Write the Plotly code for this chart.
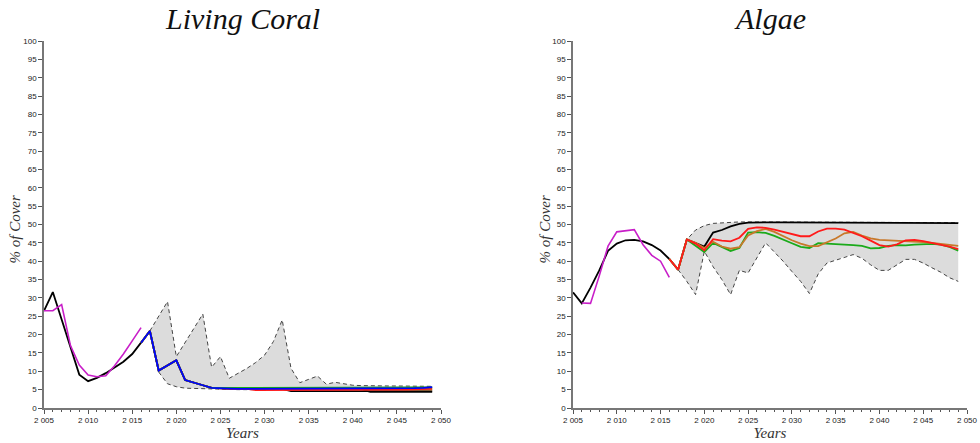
import plotly.graph_objects as go

# ---------------- data ----------------
hist_years = list(range(2005, 2017))
coral_hist_black = [26.5, 31.6, 24.1, 16.5, 9.1, 7.3, 8.2, 9.5, 11.0, 12.6, 14.7, 17.8]
coral_hist_magenta = [26.5, 26.5, 28.2, 17.0, 11.7, 9.0, 8.5, 8.8, 11.5, 14.7, 18.3, 21.9]

algae_hist_black = [31.5, 28.5, 32.8, 37.5, 42.8, 44.8, 45.7, 45.8, 45.4, 44.4, 42.9, 40.6]
magenta_years_algae = list(range(2006, 2017))
algae_hist_magenta = [28.6, 28.5, 36.0, 44.1, 48.0, 48.4, 48.6, 44.5, 41.6, 40.0, 35.6]

scen_years = list(range(2016, 2050))  # 34 values
coral_blue = [17.8, 21.0, 10.2, 11.6, 13.0, 7.6, 7.0, 6.2, 5.5, 5.3, 5.3, 5.2, 5.2, 5.2, 5.2, 5.2, 5.2,
              5.2, 5.2, 5.2, 5.2, 5.2, 5.2, 5.2, 5.2, 5.2, 5.2, 5.2, 5.2, 5.3, 5.3, 5.4, 5.5, 5.7]
coral_green = [17.8, 21.0, 10.2, 11.6, 13.0, 7.6, 7.0, 6.2, 5.5, 5.4, 5.5, 5.5, 5.5, 5.5, 5.5, 5.5, 5.5,
               5.5, 5.5, 5.5, 5.5, 5.5, 5.5, 5.5, 5.5, 5.6, 5.6, 5.6, 5.6, 5.6, 5.6, 5.6, 5.6, 5.6]
coral_red = [17.8, 21.0, 10.2, 11.6, 13.0, 7.6, 7.0, 6.2, 5.5, 5.3, 5.3, 5.2, 5.2, 4.9, 4.9, 4.9, 4.9,
             4.9, 4.9, 4.9, 4.9, 4.9, 4.9, 4.9, 4.8, 4.8, 4.8, 4.8, 4.8, 4.9, 5.0, 5.1, 5.2, 5.3]
coral_orange = [17.8, 21.0, 10.2, 11.6, 13.0, 7.6, 7.0, 6.2, 5.5, 5.3, 5.3, 5.2, 5.2, 5.2, 5.2, 5.2, 5.2,
                5.2, 5.2, 5.2, 5.2, 5.2, 5.2, 5.2, 5.2, 5.2, 5.2, 5.2, 5.2, 5.0, 5.0, 5.0, 5.0, 5.0]
coral_black = [17.8, 21.0, 10.2, 11.6, 13.0, 7.6, 7.0, 6.2, 5.5, 5.3, 5.3, 5.2, 5.2, 5.2, 5.2, 5.2, 5.2,
               4.6, 4.6, 4.6, 4.6, 4.6, 4.6, 4.6, 4.6, 4.6, 4.6, 4.6, 4.6, 4.6, 4.6, 4.6, 4.6, 4.6]
coral_gray = [17.8, 21.0, 10.2, 11.6, 13.0, 7.6, 7.0, 6.2, 5.5, 5.3, 5.3, 5.2, 5.2, 5.2, 5.2, 5.2, 5.2,
              5.2, 5.2, 5.2, 5.2, 5.2, 5.2, 5.2, 5.2, 5.2, 4.3, 4.3, 4.3, 4.3, 4.3, 4.3, 4.3, 4.3]

algae_black = [40.6, 37.7, 45.9, 45.0, 44.0, 47.8, 48.5, 49.5, 50.2, 50.5, 50.6, 50.6, 50.6, 50.6, 50.6,
               50.6, 50.6, 50.6, 50.6, 50.6, 50.6, 50.6, 50.6, 50.6, 50.6, 50.6, 50.6, 50.5, 50.5, 50.5,
               50.5, 50.5, 50.5, 50.4]
algae_orange = [40.6, 37.7, 45.9, 45.0, 43.6, 45.3, 44.0, 43.4, 43.8, 47.0, 48.2, 48.8, 48.0, 46.8, 45.7,
                44.8, 44.1, 44.1, 45.2, 46.2, 47.6, 48.0, 47.0, 46.2, 45.8, 45.7, 45.7, 45.6, 45.5, 45.2,
                45.0, 44.7, 44.4, 44.2]
algae_green = [40.6, 37.7, 45.9, 44.2, 42.5, 45.0, 43.9, 42.8, 43.6, 47.8, 47.9, 47.7, 46.9, 45.8, 44.9,
               43.9, 43.6, 44.9, 44.8, 44.7, 44.5, 44.4, 44.2, 43.5, 43.6, 44.2, 44.4, 44.3, 44.5, 44.7,
               44.7, 44.5, 43.9, 42.9]
algae_red = [40.6, 37.7, 45.9, 44.8, 43.0, 46.0, 45.6, 45.4, 46.4, 48.8, 49.2, 49.1, 48.6, 48.0, 47.5,
             46.8, 46.8, 48.1, 48.9, 48.9, 48.6, 47.8, 46.8, 45.6, 44.4, 44.0, 44.6, 45.7, 45.8, 45.5,
             45.0, 44.6, 44.0, 43.3]

env_years = list(range(2017, 2050))  # 33 values
coral_upper = [21.0, 25.0, 29.0, 14.0, 17.8, 21.7, 25.6, 11.1, 14.0, 8.1, 9.4, 10.8, 12.4, 14.4, 18.1,
               24.0, 10.8, 6.9, 7.8, 8.7, 6.5, 7.0, 6.6, 6.2, 6.1, 6.0, 6.0, 6.0, 6.0, 6.0, 5.9, 5.9, 5.9]
coral_lower = [21.0, 9.8, 6.6, 5.8, 5.4, 5.3, 5.2, 5.1, 5.0, 5.0, 5.0, 5.0, 5.0, 5.0, 5.0, 5.0, 5.0,
               5.0, 5.0, 5.0, 5.0, 5.0, 5.0, 5.0, 5.0, 5.0, 5.0, 5.0, 5.0, 5.0, 5.0, 5.1, 5.1]
algae_upper = [37.7, 45.9, 48.5, 49.7, 50.3, 50.5, 50.6, 50.7, 50.7, 50.7, 50.7, 50.7, 50.7, 50.7, 50.7,
               50.7, 50.7, 50.7, 50.7, 50.7, 50.7, 50.7, 50.7, 50.7, 50.7, 50.6, 50.6, 50.6, 50.6, 50.6,
               50.6, 50.6, 50.5]
algae_lower = [37.7, 34.5, 30.9, 42.7, 38.5, 35.0, 30.9, 37.5, 36.8, 41.0, 45.0, 42.5, 40.0, 37.2, 34.5,
               31.2, 36.5, 39.5, 40.3, 41.2, 41.8, 40.8, 39.0, 37.5, 37.5, 39.0, 40.5, 40.5, 39.5, 38.2,
               37.0, 35.5, 34.5]

y_ticks = list(range(0, 101, 5))
x_ticks = list(range(2005, 2051, 5))

# ---------------- colours ----------------
C_BLUE = "#0000ff"
C_RED = "#ff1a1a"
C_GREEN = "#1aaa1a"
C_ORANGE = "#c8782a"
C_MAGENTA = "#c81ec8"
C_BLACK = "#000000"
C_FILL = "#dcdcdc"

fig = go.Figure()


def add_panel(xa, ya, upper, lower, hist_b, hist_m, m_years, scen):
    fig.add_trace(go.Scatter(x=env_years + env_years[::-1], y=upper + lower[::-1], fill="toself",
                             fillcolor=C_FILL, line=dict(width=0), mode="lines", hoverinfo="skip",
                             xaxis=xa, yaxis=ya, showlegend=False))
    for arr in (upper, lower):
        fig.add_trace(go.Scatter(x=env_years, y=arr, mode="lines",
                                 line=dict(color="#444444", width=1, dash="4px,3px"),
                                 xaxis=xa, yaxis=ya, showlegend=False))
    fig.add_trace(go.Scatter(x=hist_years, y=hist_b, mode="lines", line=dict(color=C_BLACK, width=1.8),
                             xaxis=xa, yaxis=ya, showlegend=False))
    fig.add_trace(go.Scatter(x=m_years, y=hist_m, mode="lines", line=dict(color=C_MAGENTA, width=1.6),
                             xaxis=xa, yaxis=ya, showlegend=False))
    for vals, col in scen:
        fig.add_trace(go.Scatter(x=scen_years, y=vals, mode="lines", line=dict(color=col, width=1.8),
                                 xaxis=xa, yaxis=ya, showlegend=False))


add_panel("x", "y", coral_upper, coral_lower, coral_hist_black, coral_hist_magenta, hist_years,
          [(coral_gray, "#444444"), (coral_black, C_BLACK), (coral_orange, C_ORANGE), (coral_red, C_RED),
           (coral_green, C_GREEN), (coral_blue, C_BLUE)])
add_panel("x2", "y2", algae_upper, algae_lower, algae_hist_black, algae_hist_magenta, magenta_years_algae,
          [(algae_black, C_BLACK), (algae_green, C_GREEN), (algae_orange, C_ORANGE), (algae_red, C_RED)])

tickfont = dict(family="Liberation Sans, Arial, sans-serif", size=8, color="#222222")
titlefont = dict(family="Liberation Serif, Times New Roman, serif", size=15, color="#333333")

xcommon = dict(range=[2005, 2050], tickvals=x_ticks, ticks="outside", ticklen=4, tickwidth=1,
               tickcolor="#555555", showline=True, linecolor="#777777", linewidth=1.5, showgrid=False,
               zeroline=False, tickfont=tickfont, separatethousands=True, automargin=False,
               minor=dict(dtick=1, ticks="outside", ticklen=2, tickcolor="#555555", showgrid=False),
               title=dict(text="<i>Years</i>", font=titlefont, standoff=1))
ycommon = dict(range=[0, 100], tickvals=y_ticks, ticks="outside", ticklen=4, tickwidth=1,
               tickcolor="#555555", showline=True, linecolor="#777777", linewidth=1.5, showgrid=False,
               zeroline=False, tickfont=tickfont, automargin=False)

W, H = 980, 443
ydom = [(H - 408) / H, (H - 41) / H]
ymid = (ydom[0] + ydom[1]) / 2 - 5 / H
title_font = dict(family="Liberation Serif, Times New Roman, serif", size=30, color="#111111")


def ytitle(xpix):
    return dict(text="<i>% of Cover</i>", x=xpix / W, y=ymid, xref="paper", yref="paper",
                showarrow=False, textangle=-90, font=titlefont, xanchor="center", yanchor="middle")


fig.update_layout(
    width=W, height=H,
    margin=dict(l=0, r=0, t=0, b=0),
    paper_bgcolor="white", plot_bgcolor="white",
    separators=". ",
    xaxis=dict(domain=[44 / W, 441 / W], anchor="y", **xcommon),
    yaxis=dict(domain=ydom, anchor="x", **ycommon),
    xaxis2=dict(domain=[573 / W, 967 / W], anchor="y2", **xcommon),
    yaxis2=dict(domain=ydom, anchor="x2", **ycommon),
    annotations=[
        dict(text="<i>Living Coral</i>", x=(44 + 441) / 2 / W, y=1.0, xref="paper", yref="paper",
             showarrow=False, font=title_font, xanchor="center", yanchor="top"),
        dict(text="<i>Algae</i>", x=(573 + 967) / 2 / W, y=1.0, xref="paper", yref="paper",
             showarrow=False, font=title_font, xanchor="center", yanchor="top"),
        ytitle(15),
        ytitle(545),
    ],
)

# remove the default page margin so the figure fills the window exactly
fig.write_html("out.html", config={"displayModeBar": False},
               post_script="document.body.style.margin='0';document.body.style.overflow='hidden';")
